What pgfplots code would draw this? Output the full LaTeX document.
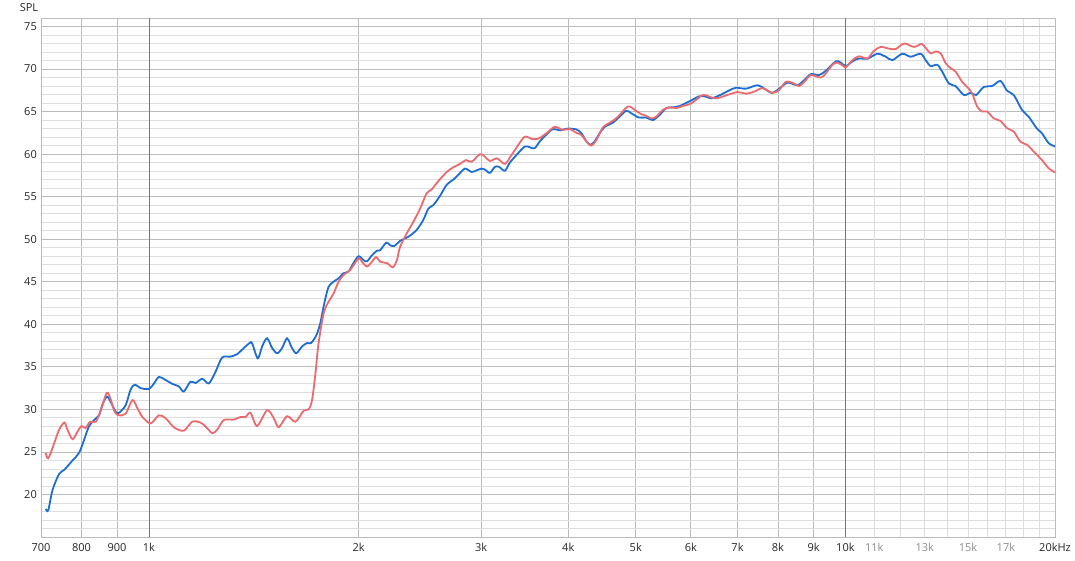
\documentclass[border=0pt]{standalone}
\usepackage{pgfplots}
\pgfplotsset{compat=1.18}
\usepackage{fontspec}
\setmainfont{Open Sans}
\definecolor{bluec}{RGB}{28,110,212}
\definecolor{redc}{RGB}{236,106,110}
\definecolor{gridmaj}{RGB}{188,188,188}
\definecolor{gridmin}{RGB}{222,222,222}
\definecolor{griddark}{RGB}{118,118,118}
\begin{document}
\begin{tikzpicture}
\begin{axis}[
  name=ax,
  scale only axis, width=1014pt, height=519pt,
  xmode=log, xmin=700, xmax=20000, ymin=15, ymax=76,
  xtick={700,800,900,1000,2000,3000,4000,5000,6000,7000,8000,9000,10000,20000},
  xticklabels={700,800,900,1k,2k,3k,4k,5k,6k,7k,8k,9k,10k,20kHz},
  extra x ticks={11000,13000,15000,17000},
  extra x tick labels={11k,13k,15k,17k},
  extra x tick style={grid=major, major grid style={gridmin, line width=0.8pt}, tick label style={text=black!45}},
  minor xtick={12000,14000,16000,18000,19000},
  ytick={20,25,...,75},
  minor ytick={16,17,...,76},
  grid=both,
  major grid style={gridmaj, line width=0.8pt},
  minor grid style={gridmin, line width=0.8pt},
  major tick length=0pt, minor tick length=0pt,
  axis line style={gridmaj, line width=0.8pt},
  tick label style={font=\fontsize{11}{13}\selectfont, text=black!85},
  /pgf/number format/assume math mode=true,
  xticklabel style={inner sep=0pt, anchor=north, yshift=-6pt},
  yticklabel style={inner sep=0pt, anchor=east, xshift=-4pt},
]
\draw[griddark, line width=0.8pt] (axis cs:1000,15) -- (axis cs:1000,76);
\draw[griddark, line width=0.8pt] (axis cs:10000,15) -- (axis cs:10000,76);
\addplot[bluec, line width=1.8pt, smooth, no markers] table {
f v
711 18.3
717 18.15
727 20.5
743 22.4
756 22.9
777 24.0
794 24.9
807 26.4
820 28.0
834 28.75
848 29.3
857 30.5
870 31.5
881 30.9
896 29.7
906 29.6
926 30.5
941 32.3
954 32.9
973 32.5
1000 32.4
1017 33.05
1033 33.8
1057 33.45
1080 33.0
1104 32.7
1122 32.1
1147 33.25
1167 33.1
1193 33.6
1219 33.05
1246 34.4
1274 36.1
1309 36.2
1339 36.5
1368 37.2
1395 37.8
1407 37.75
1433 36.0
1454 37.4
1478 38.35
1503 37.2
1528 36.6
1553 37.2
1579 38.35
1605 37.2
1628 36.6
1659 37.4
1687 37.8
1709 37.8
1739 38.7
1762 40.1
1786 42.5
1811 44.4
1841 45.0
1872 45.4
1903 46.0
1935 46.2
1967 47.2
2000 48.0
2033 47.55
2056 47.4
2090 48.1
2125 48.65
2148 48.7
2191 49.6
2220 49.3
2250 49.2
2294 49.8
2358 50.3
2424 51.1
2478 52.3
2519 53.6
2560 54.0
2618 55.1
2676 56.4
2735 57.0
2780 57.55
2843 58.3
2906 57.9
2954 58.1
3004 58.3
3036 58.2
3087 57.8
3138 58.5
3183 58.5
3244 58.05
3298 59.0
3371 59.9
3465 60.9
3523 60.8
3581 60.7
3641 61.5
3722 62.3
3804 62.95
3889 62.8
3997 63.0
4109 62.9
4178 62.45
4247 61.5
4304 61.1
4365 61.5
4438 62.45
4512 63.2
4637 63.7
4740 64.4
4846 65.1
4927 64.8
5050 64.3
5177 64.3
5291 64.0
5409 64.6
5530 65.4
5651 65.5
5778 65.65
5972 66.2
6172 66.8
6310 66.75
6415 66.55
6593 66.9
6814 67.5
6966 67.8
7200 67.7
7481 68.1
7648 67.7
7845 67.2
8036 67.7
8258 68.4
8536 68.1
8726 68.7
8921 69.4
9169 69.3
9374 69.8
9688 70.9
9850 70.75
10013 70.35
10234 70.9
10462 71.25
10753 71.2
11114 71.8
11426 71.45
11678 71.05
12069 71.8
12408 71.45
12824 71.8
13037 71.05
13254 70.35
13546 70.5
13771 69.7
14079 68.3
14394 68.0
14793 66.95
15124 67.2
15406 66.95
15802 67.9
16241 68.0
16698 68.6
17066 67.45
17447 66.95
17930 65.2
18331 64.4
18839 63.0
19153 62.45
19581 61.3
20000 60.9
};
\addplot[redc, line width=1.8pt, smooth, no markers] table {
f v
711 24.9
717 24.25
731 26.0
743 27.6
756 28.45
764 27.6
777 26.5
790 27.4
800 28.05
811 27.8
823 28.55
839 28.55
853 29.9
870 31.95
881 31.2
893 29.7
906 29.3
926 29.5
947 31.1
963 30.1
979 29.1
1006 28.35
1033 29.3
1057 28.95
1086 27.9
1122 27.5
1154 28.55
1186 28.45
1212 27.8
1233 27.2
1253 27.6
1281 28.75
1324 28.8
1353 29.1
1376 29.1
1399 29.6
1430 28.05
1478 29.9
1511 28.95
1536 27.9
1579 29.2
1623 28.55
1668 29.85
1696 30.0
1715 31.1
1734 34.2
1752 37.75
1782 41.3
1811 42.65
1841 43.6
1872 45.0
1903 45.8
1946 46.4
2000 47.75
2022 47.35
2056 46.8
2090 47.35
2119 47.9
2148 47.35
2196 47.2
2240 46.7
2270 47.55
2294 49.1
2346 50.7
2397 52.05
2451 53.6
2505 55.4
2547 55.85
2589 56.6
2618 57.05
2676 57.9
2735 58.45
2796 58.85
2852 59.3
2906 59.1
2987 60.0
3036 59.7
3087 59.2
3162 59.5
3244 58.85
3316 59.9
3389 61.05
3465 62.05
3542 61.8
3620 61.8
3722 62.45
3825 63.2
3931 62.85
4019 62.95
4109 62.5
4178 62.25
4247 61.5
4318 61.0
4390 61.65
4486 63.15
4612 63.8
4714 64.4
4872 65.6
4981 65.2
5092 64.7
5177 64.5
5263 64.2
5350 64.4
5468 65.2
5590 65.5
5715 65.4
5841 65.65
6005 65.95
6240 66.95
6379 66.75
6521 66.55
6740 66.9
7003 67.3
7200 67.1
7400 67.35
7605 67.75
7860 67.2
8036 67.55
8215 68.5
8443 68.3
8584 68.0
8775 68.7
8921 69.3
9220 69.0
9374 69.5
9580 70.5
9740 70.75
9957 70.3
10013 70.2
10234 71.05
10462 71.5
10753 71.25
10994 72.15
11238 72.6
11551 72.4
11810 72.35
12137 73.0
12544 72.6
12867 72.95
13063 72.4
13254 71.85
13474 72.05
13699 71.85
13927 70.7
14158 70.1
14394 69.7
14710 68.5
14955 67.9
15204 67.15
15457 65.6
15714 65.0
15976 65.0
16333 64.2
16698 63.9
17066 63.05
17447 62.65
17836 61.45
18228 61.1
18740 60.1
19153 59.3
19581 58.35
20000 57.85
};
\end{axis}
\node[font=\fontsize{11}{13}\selectfont, text=black!85, anchor=center, xshift=-12pt, yshift=10.5pt] at (ax.north west) {SPL};
\pgfresetboundingbox
\path[use as bounding box] (ax.south west) ++(-41pt,-23pt) rectangle ++(1075pt,560pt);
\end{tikzpicture}
\end{document}
